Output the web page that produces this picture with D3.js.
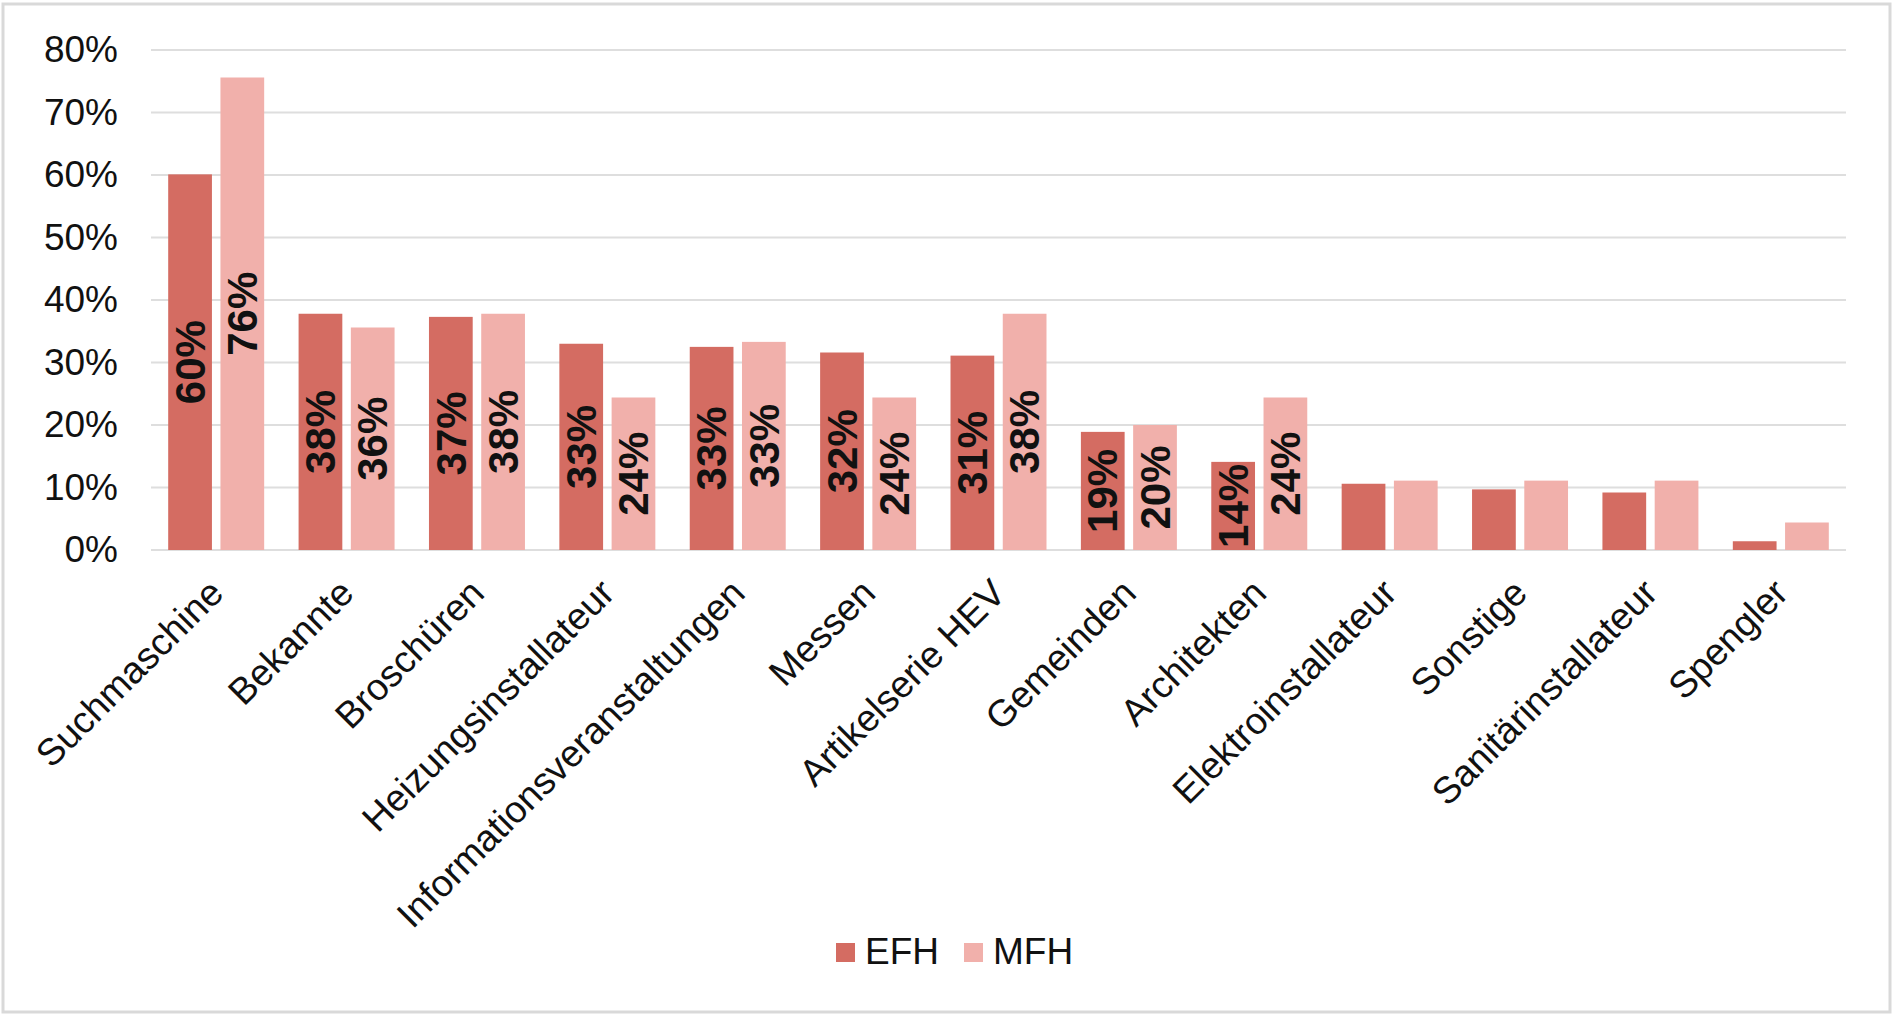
<!DOCTYPE html>
<html>
<head>
<meta charset="utf-8">
<script src="https://cdn.jsdelivr.net/npm/d3@7"></script>
<style>
  html, body { margin: 0; padding: 0; background: #fff; }
  svg { display: block; font-family: "Liberation Sans", Arial, sans-serif; }
</style>
</head>
<body>
<div id="chart"></div>
<script>
// Data
const categories = ['Suchmaschine', 'Bekannte', 'Broschüren', 'Heizungsinstallateur',
  'Informationsveranstaltungen', 'Messen', 'Artikelserie HEV', 'Gemeinden', 'Architekten',
  'Elektroinstallateur', 'Sonstige', 'Sanitärinstallateur', 'Spengler'];
const seriesNames = ['EFH', 'MFH'];
const efhValues = [60.1, 37.8, 37.3, 33.0, 32.5, 31.6, 31.1, 18.9, 14.1, 10.6, 9.7, 9.2, 1.4];
const mfhValues = [75.6, 35.6, 37.8, 24.4, 33.3, 24.4, 37.8, 20.0, 24.4, 11.1, 11.1, 11.1, 4.4];
// only these categories carry a value label
const labelledCategories = categories.slice(0, 9);
const yTicks = [0, 10, 20, 30, 40, 50, 60, 70, 80];
const colors = { EFH: '#d46c62', MFH: '#f1b0ab' };

const width = 1895, height = 1016;
const plot = { left: 151, right: 1846, top: 50, bottom: 550 };

const svg = d3.select('#chart').append('svg')
  .attr('width', width)
  .attr('height', height);

// outer frame
svg.append('rect')
  .attr('x', 3).attr('y', 4)
  .attr('width', 1887).attr('height', 1008)
  .attr('fill', '#fff')
  .attr('stroke', '#d9d9d9')
  .attr('stroke-width', 3);

const y = d3.scaleLinear().domain([0, 80]).range([plot.bottom, plot.top]);
const x0 = d3.scaleBand().domain(categories).range([plot.left, plot.right]);
const groupPad = 17.2;
const x1 = d3.scaleBand().domain(seriesNames)
  .range([groupPad, x0.bandwidth() - groupPad])
  .paddingInner(0.163);

// gridlines
svg.append('g')
  .selectAll('line')
  .data(yTicks)
  .join('line')
  .attr('x1', plot.left).attr('x2', plot.right)
  .attr('y1', d => y(d)).attr('y2', d => y(d))
  .attr('stroke', '#dedede')
  .attr('stroke-width', 2);

// y axis labels
const yAxis = d3.axisLeft(y).tickValues(yTicks).tickFormat(d => d + '%').tickSize(0).tickPadding(0);
svg.append('g')
  .attr('transform', `translate(118,0)`)
  .call(yAxis)
  .call(g => g.select('.domain').remove())
  .selectAll('text')
  .attr('font-size', 37)
  .attr('font-family', '"Liberation Sans", Arial, sans-serif')
  .attr('fill', '#111');

const rows = categories.map((c, i) => ({ category: c, EFH: efhValues[i], MFH: mfhValues[i] }));

// bars
const groups = svg.append('g')
  .selectAll('g')
  .data(rows)
  .join('g')
  .attr('transform', d => `translate(${x0(d.category)},0)`);

groups.selectAll('rect')
  .data(d => seriesNames.map(s => ({ series: s, value: d[s], category: d.category })))
  .join('rect')
  .attr('x', d => x1(d.series))
  .attr('width', x1.bandwidth())
  .attr('y', d => y(d.value))
  .attr('height', d => y(0) - y(d.value))
  .attr('fill', d => colors[d.series]);

// value labels, centered inside bars
groups.selectAll('text.val')
  .data(d => labelledCategories.includes(d.category)
    ? seriesNames.map(s => ({ series: s, value: d[s] })) : [])
  .join('text')
  .attr('class', 'val')
  .attr('transform', d => `translate(${x1(d.series) + x1.bandwidth() / 2},${(y(d.value) + y(0)) / 2}) rotate(-90)`)
  .attr('text-anchor', 'middle')
  .attr('dy', '0.35em')
  .attr('font-size', 42)
  .attr('font-weight', 'bold')
  .attr('fill', '#111')
  .text(d => Math.round(d.value) + '%');

// category labels
svg.append('g')
  .selectAll('text')
  .data(categories)
  .join('text')
  .attr('transform', d => `translate(${x0(d) + x0.bandwidth() / 2},586) rotate(-45)`)
  .attr('text-anchor', 'end')
  .attr('dy', '0.35em')
  .attr('font-size', 37.5)
  .attr('fill', '#111')
  .text(d => d);

// legend
const legend = svg.append('g').attr('transform', 'translate(836,943)');
const legendX = { EFH: 0, MFH: 128 };
seriesNames.forEach(s => {
  const item = legend.append('g').attr('transform', `translate(${legendX[s]},0)`);
  item.append('rect').attr('width', 19).attr('height', 19).attr('fill', colors[s]);
  item.append('text')
    .attr('x', 29).attr('y', 21)
    .attr('font-size', 37)
    .attr('fill', '#111')
    .text(s);
});
</script>
</body>
</html>
